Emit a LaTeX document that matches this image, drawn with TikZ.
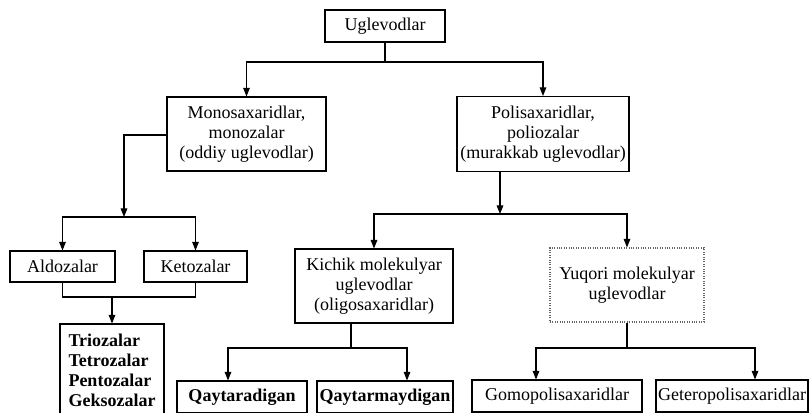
\documentclass[tikz,border=0pt]{standalone}
\usepackage{fontspec}
\setmainfont{Liberation Serif}
\usetikzlibrary{arrows.meta}
\begin{document}
\begin{tikzpicture}[x=0.75pt,y=-0.75pt,
  box/.style={draw, line width=0.8pt, inner sep=1pt, align=center,
    font=\fontsize{13.5}{15}\selectfont},
  dbox/.style={box, draw=black!60, densely dotted},
  ln/.style={line width=0.8pt},
  arr/.style={ln, -{Triangle[length=6.5pt,width=5pt]}}]
\useasboundingbox (0,0) rectangle (810,412);
\clip (0,0) rectangle (810,412);
% nodes
\node[box, minimum width=90pt, minimum height=24pt] (ug) at (385,26) {Uglevodlar};
\node[box, minimum width=119.25pt, minimum height=55.5pt] (mono) at (246.5,134)
  {Monosaxaridlar,\\monozalar\\(oddiy uglevodlar)};
\node[box, minimum width=129pt, minimum height=56.25pt] (poli) at (543,134)
  {Polisaxaridlar,\\poliozalar\\(murakkab uglevodlar)};
\node[box, minimum width=78.75pt, minimum height=23.25pt] (aldo) at (62.5,266.5) {Aldozalar};
\node[box, minimum width=77.25pt, minimum height=23.25pt] (keto) at (195.5,266.5) {Ketozalar};
\node[box, align=left, minimum width=78pt, minimum height=69pt, font=\fontsize{13.5}{15}\selectfont\bfseries] (trio) at (112,370)
  {Triozalar\\Tetrozalar\\Pentozalar\\Geksozalar};
\node[box, minimum width=118.5pt, minimum height=55.5pt] (kichik) at (374,286)
  {Kichik molekulyar\\uglevodlar\\(oligosaxaridlar)};
\node[dbox, minimum width=115.5pt, minimum height=55.5pt] (yuqori) at (627,285)
  {Yuqori molekulyar\\uglevodlar};
\node[box, minimum width=97.5pt, minimum height=24pt, font=\fontsize{13.5}{15}\selectfont\bfseries] (q1) at (242,397) {Qaytaradigan};
\node[box, minimum width=102pt, minimum height=24pt, font=\fontsize{13.5}{15}\selectfont\bfseries] (q2) at (385,397) {Qaytarmaydigan};
\node[box, minimum width=127.5pt, minimum height=24pt] (gomo) at (557,396) {Gomopolisaxaridlar};
\node[box, minimum width=114pt, minimum height=24pt] (getero) at (732,396) {Geteropolisaxaridlar};
% junctions
\coordinate (j1) at (385,62);
\coordinate (j2) at (124,217);
\coordinate (j3) at (112,297);
\coordinate (j4) at (500,214);
\coordinate (j5) at (351,348);
\coordinate (j6) at (627,348);
% connectors
\draw[ln] (ug.south) -- (j1);
\draw[arr] (j1) -| (mono.north);
\draw[arr] (j1) -| (poli.north);
\draw[arr] (mono.west |- 0,135) -| (j2);
\draw[arr] (j2) -| (aldo.north);
\draw[arr] (j2) -| (keto.north);
\draw[ln] (aldo.south) |- (j3) -| (keto.south);
\draw[arr] (j3) -- (trio.north);
\draw[arr] (poli.south -| j4) -- (j4);
\draw[arr] (j4) -| (kichik.north);
\draw[arr] (j4) -| (yuqori.north);
\draw[ln] (kichik.south -| j5) -- (j5);
\draw[arr] (j5) -| (q1.north -| 228,0);
\draw[arr] (j5) -| (q2.north -| 407,0);
\draw[ln] (yuqori.south) -- (j6);
\draw[arr] (j6) -| (gomo.north -| 536,0);
\draw[arr] (j6) -| (getero.north -| 755,0);
\end{tikzpicture}
\end{document}
